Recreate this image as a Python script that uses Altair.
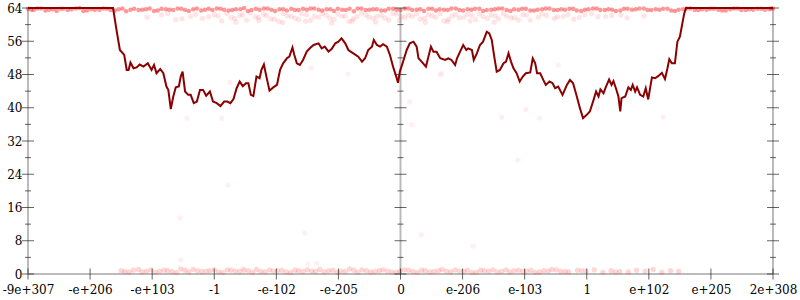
import altair as alt
import pandas as pd

# ---------------- data ----------------
# x is expressed in axis units: 100 units between consecutive tick labels
tick_labels = ["-9e+307", "-e+206", "-e+103", "-1", "-e-102", "-e-205", "0",
               "e-206", "e-103", "1", "e+102", "e+205", "2e+308"]
tick_pos = [0, 100, 200, 300, 400, 500, 600, 700, 800, 900, 1000, 1100, 1200]
y_major = [0, 8, 16, 24, 32, 40, 48, 56, 64]
y_minor = [4, 12, 20, 28, 36, 44, 52, 60]
axis_x = [0, 600, 1200]

line_x = [0, 137, 143, 148, 155, 159, 162, 165, 170, 175, 180, 186, 193, 199, 203, 207, 213, 218,
          223, 226, 230, 234, 238, 243, 246, 249, 253, 258, 262, 267, 272, 277, 282, 287, 293, 298,
          304, 310, 316, 321, 326, 331, 336, 341, 346, 351, 355, 359, 363, 368, 373, 376, 380, 384,
          389, 395, 401, 406, 411, 417, 421, 426, 429, 433, 438, 443, 449, 454, 460, 468, 473, 478,
          484, 489, 495, 500, 505, 511, 516, 524, 532, 538, 543, 548, 554, 557, 562, 567, 572, 578,
          583, 588, 594, 596, 599, 605, 610, 615, 621, 626, 629, 634, 641, 645, 649, 653, 658, 664,
          672, 677, 682, 688, 691, 696, 701, 706, 709, 715, 718, 723, 728, 733, 739, 743, 747, 751,
          755, 760, 766, 770, 774, 778, 782, 787, 792, 797, 802, 809, 813, 817, 820, 825, 830, 834,
          840, 845, 849, 854, 861, 868, 873, 878, 884, 889, 894, 900, 905, 911, 915, 919, 922, 927,
          931, 936, 940, 943, 947, 951, 954, 956, 962, 967, 971, 974, 978, 981, 986, 991, 995, 999,
          1002, 1005, 1010, 1015, 1021, 1026, 1030, 1033, 1037, 1042, 1046, 1050, 1053, 1057, 1060, 1200]
line_y = [64, 64, 58.3, 53.9, 52.7, 49.1, 49.1, 50.9, 49.5, 49.7, 50.4, 49.9, 50.7, 49.1, 50.3, 48.3, 49.3, 48.3,
          45.1, 44.3, 39.7, 42.7, 44.9, 45.1, 47.5, 48.7, 43.9, 43.1, 43.1, 41.1, 41.5, 44.3, 44.3, 42.9, 43.9, 41.5,
          41.1, 40.4, 41.5, 41.5, 41.1, 42.1, 44.7, 46.3, 45.2, 45.9, 45.9, 43.1, 42.8, 47.5, 47.1, 49.1, 50.4, 47.5,
          44.1, 44.9, 45.5, 49.1, 50.7, 51.9, 52.3, 54.5, 52.7, 50.7, 50.3, 51.5, 53.5, 54.3, 55.1, 55.5, 54.3, 54.7,
          53.5, 54.1, 55.5, 55.9, 56.7, 55.5, 53.9, 53.1, 52.3, 51.1, 51.9, 53.9, 54.7, 56.3, 55.1, 54.7, 55.3, 54.7,
          52.7, 49.9, 47.1, 46.0, 48.7, 51.5, 53.9, 55.5, 55.9, 54.7, 51.9, 51.1, 49.9, 52.3, 54.7, 53.5, 53.5, 51.9,
          51.5, 51.9, 51.5, 50.3, 51.9, 53.5, 55.1, 53.9, 54.3, 53.9, 51.5, 53.1, 55.1, 55.9, 58.3, 57.9, 56.3, 52.3,
          48.7, 49.1, 50.7, 51.1, 53.1, 51.1, 49.5, 48.3, 46.3, 47.5, 48.3, 48.5, 51.9, 50.7, 48.3, 48.3, 46.7, 45.5,
          46.3, 45.9, 44.7, 45.1, 43.1, 45.5, 46.7, 45.9, 42.7, 39.9, 37.5, 38.3, 39.1, 41.9, 43.9, 42.7, 44.4, 43.5,
          45.1, 46.8, 45.5, 46.4, 44.7, 42.7, 39.1, 42.3, 42.7, 44.9, 44.3, 45.5, 43.9, 44.9, 43.1, 42.7, 44.7, 42.0,
          44.7, 47.3, 47.1, 47.6, 48.4, 46.9, 49.5, 51.7, 50.7, 50.7, 55.9, 57.1, 59.5, 62.7, 64, 64]

top_x = [0, 9, 21, 34, 46, 57, 70, 83, 95, 108, 121, 133, 146, 158, 171, 184, 196, 209, 222, 234,
         247, 259, 272, 285, 297, 310, 323, 335, 348, 360, 373, 386, 398, 411, 424, 436, 449, 461, 474, 487,
         499, 512, 525, 537, 550, 562, 575, 588, 600, 613, 626, 638, 651, 663, 676, 689, 701, 714, 727, 739,
         752, 764, 777, 790, 802, 815, 828, 840, 853, 865, 878, 891, 903, 916, 929, 941, 954, 966, 979, 992,
         1004, 1017, 1030, 1042, 1055, 1067, 1080, 1093, 1105, 1118, 1131, 1143, 1156, 1168, 1181, 1194, 1200]
top_y = [63.8, 63.5, 63.9, 63.6, 63.3, 63.8, 63.7, 64.0, 63.4, 63.6, 63.9, 63.5, 63.7, 63.2, 63.8, 63.6, 63.9, 63.4, 63.7, 63.5,
         63.8, 63.3, 63.9, 63.6, 63.5, 63.8, 63.4, 63.7, 64.0, 63.5, 63.6, 63.9, 63.3, 63.7, 63.8, 63.5, 63.6, 63.9, 63.4, 63.7,
         63.8, 63.5, 63.2, 63.9, 63.6, 63.7, 63.4, 63.8, 63.5, 63.9, 63.6, 63.3, 63.8, 63.7, 63.5, 63.9, 63.4, 63.6, 63.8, 63.5,
         63.7, 63.9, 63.3, 63.6, 63.8, 63.4, 63.7, 63.9, 63.5, 63.6, 63.8, 63.3, 63.7, 63.9, 63.5, 63.6, 63.4, 63.8, 63.7, 63.9,
         63.5, 63.6, 63.8, 63.3, 63.7, 63.9, 63.5, 63.6, 63.8, 63.4, 63.7, 63.9, 63.5, 63.6, 63.8, 63.7, 63.9]
top2_x = [5, 15, 28, 40, 52, 64, 77, 89, 102, 115, 127, 140, 152, 165, 178, 190, 203, 215, 228, 241,
          253, 266, 279, 291, 304, 316, 329, 342, 354, 367, 380, 392, 405, 417, 430, 443, 455, 468, 481, 493,
          506, 518, 531, 544, 556, 569, 581, 594, 607, 619, 632, 645, 657, 670, 682, 695, 708, 720, 733, 746,
          758, 771, 783, 796, 809, 821, 834, 847, 859, 872, 884, 897, 910, 922, 935, 947, 960, 973, 985, 998,
          1011, 1023, 1036, 1048, 1061, 1074, 1086, 1099, 1112, 1124, 1137, 1149, 1162, 1175, 1187, 1197]
top2_y = [63.6, 63.9, 63.4, 63.7, 63.8, 63.5, 63.9, 63.3, 63.7, 63.6, 63.8, 63.4, 63.9, 63.6, 63.5, 63.7, 63.3, 63.8, 63.6, 63.9,
          63.5, 63.7, 63.4, 63.8, 63.9, 63.6, 63.5, 63.7, 63.3, 63.8, 63.9, 63.6, 63.7, 63.4, 63.5, 63.8, 63.9, 63.6, 63.7, 63.3,
          63.6, 63.8, 63.9, 63.5, 63.7, 63.4, 63.8, 63.6, 63.9, 63.5, 63.7, 63.8, 63.4, 63.6, 63.9, 63.5, 63.7, 63.8, 63.3, 63.6,
          63.9, 63.5, 63.7, 63.8, 63.4, 63.6, 63.9, 63.5, 63.7, 63.8, 63.4, 63.6, 63.9, 63.5, 63.7, 63.3, 63.8, 63.6, 63.9, 63.5,
          63.7, 63.8, 63.4, 63.6, 63.9, 63.5, 63.7, 63.8, 63.6, 63.4, 63.9, 63.5, 63.7, 63.8, 63.6, 63.9]

cloud_x = [192, 215, 238, 262, 281, 300, 312, 327, 341, 352, 366, 379, 391, 404, 418, 430, 441, 455, 468, 480,
           493, 506, 517, 530, 544, 556, 569, 581, 594, 607, 619, 632, 645, 657, 670, 683, 695, 708, 721, 733,
           746, 758, 771, 784, 797, 809, 822, 835, 848, 862, 879, 897, 918, 940, 965, 992,
           335, 372, 410, 447, 489, 522, 560, 598, 640, 676, 712, 751, 790]
cloud_y = [61.8, 62.3, 61.2, 62.0, 61.5, 62.4, 60.9, 61.7, 62.2, 61.1, 61.9, 62.5, 61.4, 60.8, 62.1, 61.6, 62.6, 61.0, 61.8, 62.3,
           61.3, 62.0, 60.7, 61.9, 62.4, 61.5, 62.2, 61.1, 62.6, 61.7, 62.0, 61.3, 62.4, 61.8, 60.9, 62.1, 61.6, 62.5, 61.2, 61.9,
           62.3, 61.4, 62.0, 61.7, 62.4, 61.1, 61.8, 62.2, 61.5, 62.0, 61.3, 62.4, 61.9, 62.2, 61.6, 62.1,
           60.6, 61.0, 60.5, 60.8, 60.4, 60.9, 60.6, 61.0, 60.5, 60.7, 60.9, 60.6, 61.1]
cloud2_x = [225, 248, 270, 291, 306, 320, 333, 346, 358, 371, 384, 397, 411, 424, 436, 449, 461, 474, 486, 499,
            511, 524, 537, 549, 562, 575, 588, 601, 613, 626, 639, 651, 664, 677, 689, 702, 715, 727, 740, 753,
            766, 778, 803, 828, 853, 870, 888, 908, 930, 955]
cloud2_y = [62.7, 61.4, 62.5, 61.9, 62.1, 62.7, 61.5, 62.4, 62.8, 61.7, 62.2, 61.3, 62.6, 62.0, 61.2, 62.4, 61.9, 62.7, 61.6, 62.5,
            62.1, 61.4, 62.8, 61.8, 62.0, 61.6, 62.7, 61.9, 62.3, 62.6, 61.5, 62.1, 62.7, 61.3, 62.4, 61.8, 62.2, 62.6, 61.5, 62.1,
            62.7, 61.6, 62.3, 62.6, 61.9, 62.4, 61.7, 62.6, 62.0, 62.3]

bot_x = [150, 163, 178, 191, 205, 219, 232, 246, 259, 273, 287, 300, 314, 327, 341, 355, 368, 382, 395, 409,
         423, 436, 450, 463, 477, 491, 504, 518, 531, 545, 559, 572, 586, 599, 613, 627, 640, 654, 667, 681,
         695, 708, 722, 735, 749, 763, 776, 790, 803, 817, 831, 844, 858, 871, 885, 899, 912, 926, 939, 953,
         967, 980, 994, 1007, 1021, 1035, 1048]
bot_y = [0.8, 0.5, 1.1, 0.7, 0.4, 0.9, 0.6, 1.2, 0.5, 0.8, 0.7, 1.0, 0.4, 0.9, 0.6, 0.8, 1.1, 0.5, 0.7, 0.9,
         0.4, 0.8, 1.0, 0.6, 0.5, 0.9, 0.7, 1.2, 0.4, 0.8, 0.6, 1.0, 0.5, 0.7, 0.9, 0.4, 0.8, 0.6, 1.1, 0.5,
         0.7, 0.9, 0.4, 0.8, 1.0, 0.6, 0.5, 0.9, 0.7, 0.4, 0.8, 1.1, 0.6, 0.5, 0.9, 0.7, 1.0, 0.4, 0.8, 0.6,
         0.5, 0.9, 0.7, 1.1, 0.4, 0.8, 0.6]
bot2_x = [156, 170, 184, 198, 212, 225, 239, 253, 266, 280, 293, 307, 321, 334, 348, 362, 375, 389, 402, 416,
          430, 443, 457, 470, 484, 498, 511, 525, 538, 552, 566, 579, 593, 606, 620, 634, 647, 661, 674, 688,
          702, 715, 729, 742, 756, 770, 783, 797, 810, 824, 838, 851, 865, 892, 946]
bot2_y = [0.6, 0.9, 0.5, 1.0, 0.7, 0.8, 0.4, 0.9, 1.1, 0.6, 0.8, 0.5, 1.0, 0.7, 0.9, 0.4, 0.6, 1.0, 0.8, 0.5,
          0.9, 0.6, 0.7, 1.1, 0.8, 0.4, 0.6, 0.9, 1.0, 0.5, 0.8, 0.7, 0.4, 1.0, 0.6, 0.9, 0.5, 0.8, 0.7, 1.0,
          0.6, 0.4, 0.9, 0.7, 0.5, 1.0, 0.8, 0.6, 0.9, 0.5, 0.7, 1.0, 0.6, 0.8, 0.5]

sparse_x = [456, 515, 664, 615, 446, 633, 717, 246, 451, 346, 917, 1023, 322, 245, 789, 824, 256, 312, 325,
            666, 854, 802, 618, 763, 465]
sparse_y = [49.6, 48.1, 47.9, 41.4, 9.9, 9.4, 6.7, 3.4, 2.4, 1.4, 39.9, 37.8, 21.4, 13.5, 27.4, 37.5, 37.5, 37.5, 46.1,
            48.3, 50.3, 39.6, 35.9, 37.7, 2.6]


def frame(*groups):
    xs, ys = [], []
    for gx, gy in groups:
        for a, b in zip(gx, gy):
            xs.append(a)
            ys.append(b)
    return pd.DataFrame({"x": xs, "y": ys})


top_df = frame((top_x, top_y), (top2_x, top2_y))
cloud_df = frame((cloud_x, cloud_y), (cloud2_x, cloud2_y))
bot_df = frame((bot_x, bot_y), (bot2_x, bot2_y))
sparse_df = frame((sparse_x, sparse_y))
line_df = pd.DataFrame({"x": line_x, "y": line_y})
axes_v = pd.DataFrame({"x": axis_x, "y": [0] * len(axis_x), "y2": [64] * len(axis_x)})
axes_h = pd.DataFrame({"x": [0], "x2": [1200], "y": [0]})
major_ticks = pd.DataFrame([{"x": ax, "y": v} for ax in axis_x for v in y_major])
minor_ticks = pd.DataFrame([{"x": ax, "y": v} for ax in axis_x for v in y_minor])
x_ticks = pd.DataFrame({"x": tick_pos, "y": [0] * len(tick_pos)})

label_array = "[" + ",".join("'" + t + "'" for t in tick_labels) + "]"

xscale = alt.Scale(domain=[0, 1200], nice=False, zero=False)
yscale = alt.Scale(domain=[0, 64], nice=False, zero=False)

x_axis = alt.Axis(values=tick_pos, labelExpr=label_array + "[round(datum.value/100)]",
                  title=None, ticks=False, domain=False, grid=False, labelPadding=10,
                  labelFlush=False, labelOverlap=False, labelBound=False)
y_axis = alt.Axis(values=y_major, title=None, ticks=False, domain=False, grid=False,
                  labelPadding=6, labelFlush=False, labelOverlap=False)
X = alt.X("x:Q", scale=xscale, axis=x_axis)
Y = alt.Y("y:Q", scale=yscale, axis=y_axis)

vlines = alt.Chart(axes_v).mark_rule(color="#bbbbbb", strokeWidth=2).encode(x=X, y=Y, y2="y2:Q")
hline = alt.Chart(axes_h).mark_rule(color="#bbbbbb", strokeWidth=2).encode(x=X, x2="x2:Q", y=Y)
tk_major = alt.Chart(major_ticks).mark_tick(orient="horizontal", size=12, thickness=1, color="#222222").encode(x=X, y=Y)
tk_minor = alt.Chart(minor_ticks).mark_tick(orient="horizontal", size=6, thickness=1, color="#222222").encode(x=X, y=Y)
tk_x = alt.Chart(x_ticks).mark_tick(orient="vertical", size=11, thickness=1, color="#222222").encode(x=X, y=Y)

top_pts = alt.Chart(top_df).mark_circle(size=20, color="#ff0000", opacity=0.4).encode(x=X, y=Y)
cloud_pts = alt.Chart(cloud_df).mark_circle(size=28, color="#ff0000", opacity=0.1).encode(x=X, y=Y)
bot_pts = alt.Chart(bot_df).mark_circle(size=28, color="#ff0000", opacity=0.16).encode(x=X, y=Y)
sparse_pts = alt.Chart(sparse_df).mark_circle(size=28, color="#ff0000", opacity=0.06).encode(x=X, y=Y)
line = alt.Chart(line_df).mark_line(color="#8b0000", strokeWidth=2, interpolate="linear").encode(x=X, y=Y)

chart = alt.layer(vlines, hline, sparse_pts, cloud_pts, bot_pts, top_pts,
                  tk_major, tk_minor, tk_x, line).properties(
    width=745, height=266,
    padding={"left": 28, "top": 8, "right": 27, "bottom": 26},
    autosize=alt.AutoSizeParams(type="none"),
).configure_view(stroke=None).configure_axis(
    labelFont="DejaVu Serif", labelFontSize=12, labelColor="#000000"
)

chart.save("out.html", embed_options={"renderer": "svg", "actions": False})
